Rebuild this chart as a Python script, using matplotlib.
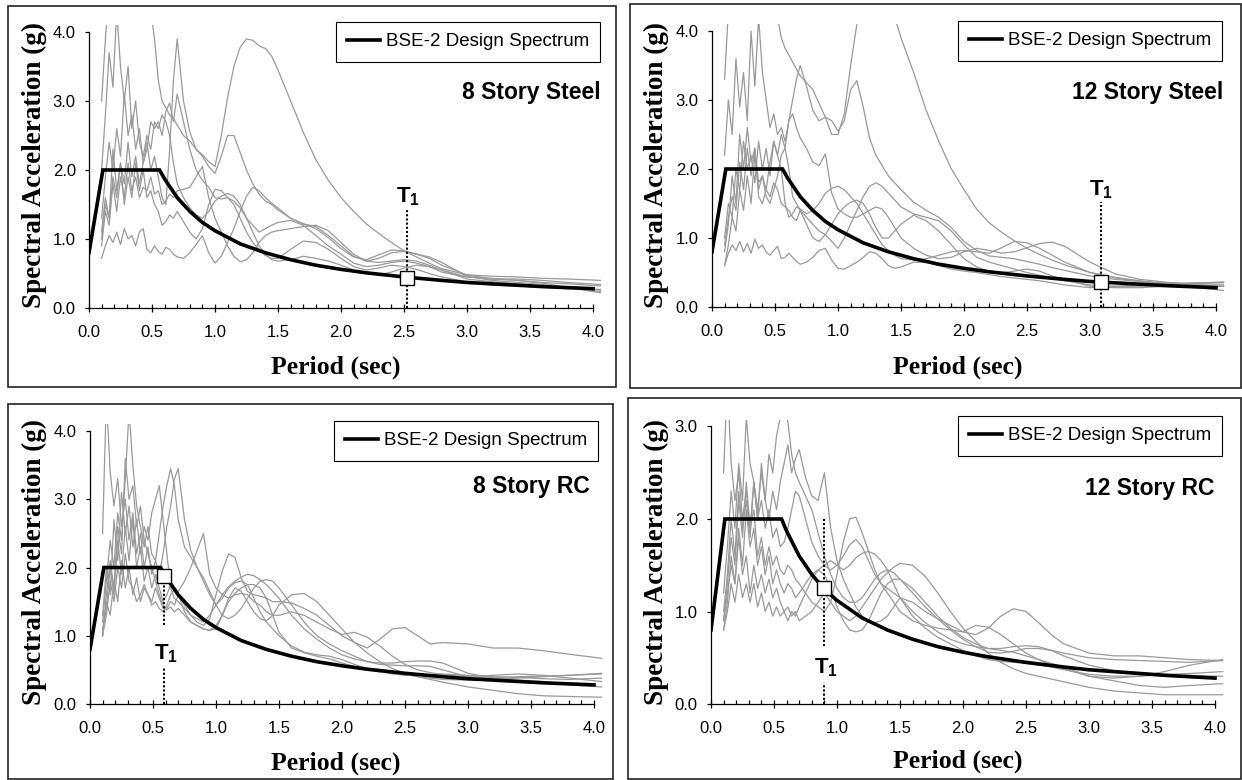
import matplotlib
matplotlib.use('Agg')
import matplotlib.pyplot as plt
from matplotlib.patches import Rectangle
from matplotlib.lines import Line2D
from matplotlib.ticker import MultipleLocator, FormatStrFormatter

plt.rcParams['font.family'] = ['Liberation Sans', 'DejaVu Sans']
plt.rcParams['mathtext.fontset'] = 'custom'
plt.rcParams['mathtext.rm'] = 'Liberation Sans'
plt.rcParams['mathtext.bf'] = 'Liberation Sans:bold'

# ---------------- data ----------------
T_GRID = [0.10, 0.13, 0.16, 0.19, 0.22, 0.25, 0.28, 0.31, 0.34, 0.37, 0.40, 0.43, 0.46, 0.49,
          0.52, 0.55, 0.58, 0.61, 0.64, 0.67, 0.70,
          0.75, 0.80, 0.85, 0.90, 0.95, 1.00, 1.05, 1.10, 1.15, 1.20, 1.25, 1.30, 1.35, 1.40,
          1.45, 1.50,
          1.6, 1.7, 1.8, 1.9, 2.0, 2.1, 2.2, 2.3, 2.4, 2.5, 2.6, 2.7, 2.8, 3.0, 3.2, 3.4, 3.6,
          3.8, 4.06]

DS_T = [0.0, 0.11, 0.56, 0.6, 0.7, 0.8, 0.9, 1.0, 1.2, 1.4, 1.6, 1.8, 2.0, 2.2, 2.5, 2.8,
        3.0, 3.3, 3.6, 4.0]
DS_SA = [0.8, 2.0, 2.0, 1.87, 1.6, 1.4, 1.24, 1.12, 0.93, 0.8, 0.7, 0.62, 0.56, 0.51, 0.45,
         0.4, 0.37, 0.34, 0.31, 0.28]

# 8 Story Steel records
S8_1 = [3.0,3.9,4.6,4.8,4.5,4.9,4.4,4.7,4.5,4.8,4.6,4.9,4.7,4.3,3.9,3.3,3.0,2.9,2.8,2.75,2.65,
        2.5,2.42,2.3,2.22,2.12,2.05,2.5,3.05,3.5,3.78,3.9,3.88,3.8,3.76,3.65,3.45,
        3.0,2.55,2.15,1.85,1.6,1.4,1.22,1.08,0.95,0.83,0.74,0.65,0.57,0.48,0.46,0.45,0.43,0.42,0.40]
S8_2 = [1.3,1.9,2.4,2.0,2.6,2.2,3.1,2.5,2.8,2.3,2.6,2.1,2.4,2.0,2.2,1.9,1.6,1.5,2.3,3.3,3.9,
        3.0,2.55,2.3,2.2,2.05,1.95,2.2,2.5,2.5,2.25,2.0,1.8,1.65,1.55,1.5,1.42,
        1.3,1.22,1.18,1.05,0.9,0.75,0.68,0.72,0.8,0.82,0.78,0.72,0.62,0.48,0.42,0.4,0.36,0.3,0.24]
S8_3 = [1.0,1.5,1.3,1.9,1.6,2.1,1.8,2.4,1.9,2.2,1.8,2.1,2.3,2.7,2.6,2.7,2.5,2.85,2.97,2.7,3.1,
        2.7,2.3,2.0,1.85,1.75,1.6,1.58,1.6,1.55,1.45,1.3,1.2,1.1,1.15,1.2,1.24,
        1.27,1.2,1.05,0.9,0.78,0.65,0.6,0.62,0.66,0.68,0.65,0.6,0.52,0.45,0.43,0.4,0.37,0.35,0.32]
S8_4 = [0.72,0.9,1.05,0.95,1.1,0.92,1.15,1.0,1.05,0.9,1.1,1.15,0.85,0.8,0.9,0.82,0.78,0.88,0.85,0.78,0.74,
        0.72,0.8,0.92,1.05,0.8,0.65,0.75,0.95,1.15,1.4,1.62,1.75,1.7,1.6,1.52,1.45,
        1.3,1.22,1.15,1.02,0.86,0.74,0.7,0.77,0.84,0.83,0.78,0.74,0.66,0.46,0.4,0.37,0.34,0.3,0.22]
S8_5 = [1.1,1.6,1.3,2.3,1.7,2.1,1.5,1.9,1.6,2.1,1.7,2.0,1.6,1.7,1.5,1.4,1.2,1.25,1.35,1.3,1.4,
        1.25,1.1,1.0,1.15,1.5,1.72,1.7,1.6,1.5,1.3,1.1,0.95,0.85,0.76,0.72,0.72,
        0.85,0.97,0.95,0.85,0.72,0.6,0.55,0.58,0.62,0.6,0.56,0.5,0.45,0.38,0.33,0.32,0.3,0.28,0.27]
S8_6 = [0.9,1.4,1.2,1.8,1.4,1.9,1.6,2.1,1.7,1.9,1.6,1.75,1.7,1.9,1.65,1.7,1.5,1.55,1.65,1.6,1.7,
        1.72,1.75,1.9,2.05,1.6,1.3,1.1,0.9,0.75,0.67,0.7,0.8,0.95,1.05,1.1,1.12,
        1.15,1.18,1.2,1.12,0.95,0.78,0.68,0.66,0.68,0.7,0.68,0.62,0.55,0.45,0.42,0.42,0.4,0.37,0.34]
S8_7 = [2.0,2.8,3.7,3.2,4.3,3.5,3.0,3.5,2.6,3.0,2.4,2.2,2.5,2.3,2.7,2.6,2.8,2.7,2.5,2.1,1.8,
        1.6,1.45,1.35,1.3,1.4,1.55,1.62,1.66,1.62,1.5,1.3,1.1,0.9,0.78,0.7,0.68,
        0.7,0.75,0.72,0.68,0.62,0.55,0.5,0.48,0.52,0.58,0.62,0.6,0.55,0.42,0.38,0.35,0.32,0.3,0.26]

# 12 Story Steel records
S12_1 = [3.3,4.3,4.8,4.5,4.9,4.6,4.8,4.4,4.7,4.9,4.5,4.7,4.6,4.4,4.2,3.9,3.75,3.65,3.55,3.45,3.35,
         3.25,3.15,2.95,2.75,2.5,2.5,2.8,3.5,4.1,4.6,4.9,5.0,4.8,4.5,4.2,3.9,
         3.4,2.85,2.4,2.0,1.7,1.42,1.22,1.08,0.96,0.85,0.76,0.68,0.61,0.5,0.43,0.38,0.33,0.29,0.24]
S12_2 = [2.2,3.0,2.5,3.6,2.9,3.4,2.7,4.0,3.2,4.2,3.4,3.0,2.6,2.8,2.5,2.6,2.4,2.7,3.0,3.3,3.5,
         3.2,2.85,2.7,2.75,2.7,2.55,2.7,3.15,3.28,2.9,2.45,2.2,2.05,1.9,1.8,1.7,
         1.52,1.4,1.3,1.15,0.95,0.82,0.74,0.72,0.7,0.66,0.62,0.57,0.53,0.45,0.4,0.37,0.35,0.34,0.33]
S12_3 = [1.0,1.5,1.3,2.0,1.7,2.4,2.0,2.2,1.8,2.4,2.0,2.3,1.9,2.4,2.2,2.5,2.3,2.7,2.8,2.6,2.45,
         2.3,2.1,2.05,2.22,1.65,1.42,1.35,1.3,1.3,1.35,1.4,1.45,1.42,1.3,1.15,1.0,
         0.85,0.75,0.7,0.72,0.8,0.85,0.82,0.78,0.8,0.86,0.92,0.94,0.88,0.65,0.48,0.4,0.36,0.33,0.3]
S12_4 = [0.9,1.3,1.6,1.4,2.1,1.7,2.3,1.9,2.3,1.8,1.9,1.7,2.1,2.4,2.2,2.0,1.5,1.3,1.35,1.45,1.42,
         1.35,1.4,1.5,1.65,1.72,1.75,1.7,1.6,1.5,1.35,1.2,1.05,0.9,0.82,0.75,0.7,
         0.68,0.7,0.75,0.8,0.82,0.8,0.78,0.86,0.95,0.93,0.85,0.75,0.65,0.5,0.42,0.37,0.34,0.32,0.3]
S12_5 = [0.6,0.9,1.3,1.1,1.7,1.4,1.9,1.5,2.2,1.7,1.9,1.6,1.5,1.7,1.9,2.2,2.3,2.0,1.6,1.5,1.4,
         1.3,1.2,1.1,1.05,0.95,0.85,1.0,1.2,1.4,1.6,1.75,1.8,1.75,1.65,1.55,1.45,
         1.35,1.3,1.25,1.1,0.9,0.72,0.65,0.6,0.55,0.5,0.46,0.42,0.38,0.32,0.3,0.3,0.32,0.34,0.36]
S12_6 = [0.8,1.2,1.9,1.5,2.5,2.0,2.6,2.1,2.3,1.6,1.5,1.7,1.6,1.8,1.7,1.5,1.45,1.4,1.3,1.25,1.4,
         1.2,1.0,0.95,1.05,1.2,1.35,1.45,1.52,1.55,1.5,1.35,1.15,1.0,1.0,1.1,1.2,
         1.33,1.25,1.1,0.9,0.7,0.58,0.52,0.5,0.52,0.55,0.52,0.45,0.4,0.3,0.28,0.28,0.3,0.3,0.3]
S12_7 = [0.6,0.78,0.9,0.82,0.95,0.8,0.92,0.78,0.98,0.85,0.9,0.8,0.75,0.82,0.88,0.7,0.72,0.78,0.72,0.66,0.62,
         0.65,0.72,0.82,0.85,0.68,0.56,0.55,0.6,0.65,0.72,0.8,0.78,0.7,0.6,0.56,0.58,
         0.65,0.65,0.6,0.55,0.52,0.5,0.47,0.44,0.42,0.4,0.38,0.35,0.32,0.28,0.3,0.32,0.33,0.35,0.36]

# 8 Story RC records
R8_1 = [2.5,4.5,3.4,2.9,3.3,2.6,3.0,2.4,2.8,2.2,2.5,2.0,2.3,1.9,2.1,2.5,2.9,3.2,3.45,3.2,2.7,
        2.3,2.15,2.0,1.85,1.65,1.45,1.3,1.25,1.3,1.4,1.55,1.7,1.8,1.82,1.8,1.7,
        1.45,1.2,1.0,0.88,0.78,0.7,0.62,0.58,0.57,0.56,0.56,0.55,0.5,0.4,0.38,0.4,0.41,0.42,0.44]
R8_2 = [1.2,1.8,2.4,2.0,2.8,2.4,3.3,4.3,3.5,2.9,2.6,2.3,2.6,2.2,2.1,1.9,2.2,2.6,2.9,3.3,3.45,
        2.7,2.25,2.0,1.8,1.6,1.45,1.55,1.7,1.78,1.8,1.75,1.55,1.35,1.2,1.1,1.0,
        0.85,0.76,0.72,0.7,0.65,0.58,0.52,0.48,0.44,0.42,0.42,0.43,0.44,0.42,0.4,0.39,0.37,0.36,0.38]
R8_3 = [1.0,1.6,2.1,1.7,2.6,2.2,3.6,3.0,3.2,2.6,2.9,2.4,2.2,2.0,1.8,1.6,1.45,1.4,1.5,1.45,1.6,
        1.45,1.3,1.2,1.15,1.25,1.6,1.95,2.2,2.15,1.85,1.65,1.6,1.58,1.55,1.5,1.5,
        1.48,1.4,1.3,1.15,1.0,0.9,0.82,0.95,1.1,1.12,1.0,0.88,0.9,0.88,0.82,0.82,0.78,0.73,0.67]
R8_4 = [1.1,1.4,2.0,1.6,2.4,1.9,2.6,2.1,2.7,2.0,2.3,1.8,2.0,1.7,1.9,1.7,1.5,1.6,1.75,1.7,1.65,
        1.8,2.0,2.25,2.5,1.9,1.7,1.6,1.55,1.6,1.62,1.6,1.5,1.45,1.35,1.3,1.3,
        1.35,1.3,1.2,1.1,1.02,1.05,0.98,0.85,0.7,0.58,0.5,0.46,0.43,0.4,0.42,0.44,0.42,0.38,0.33]
R8_5 = [1.3,2.0,1.6,2.7,2.1,3.1,2.5,2.9,2.3,2.7,2.2,2.6,2.4,2.8,3.0,3.2,2.7,2.2,1.7,1.55,1.5,
        1.4,1.3,1.25,1.2,1.3,1.45,1.6,1.72,1.8,1.86,1.9,1.88,1.82,1.75,1.65,1.55,
        1.3,1.1,0.95,0.82,0.72,0.66,0.62,0.6,0.6,0.62,0.63,0.63,0.6,0.45,0.38,0.35,0.33,0.28,0.25]
R8_6 = [1.0,1.3,1.8,1.5,2.0,1.7,2.2,1.8,1.7,1.5,1.6,1.75,1.6,1.5,1.7,1.55,1.4,1.38,1.42,1.35,1.4,
        1.3,1.2,1.15,1.1,1.08,1.1,1.3,1.55,1.7,1.65,1.5,1.35,1.25,1.22,1.3,1.45,
        1.6,1.62,1.5,1.3,1.1,0.9,0.75,0.62,0.52,0.45,0.4,0.36,0.32,0.25,0.2,0.15,0.12,0.11,0.1]
R8_7 = [1.0,1.5,1.3,1.8,1.5,2.1,1.7,2.0,1.6,1.85,1.5,1.7,1.6,1.45,1.5,1.4,1.35,1.45,1.6,1.68,1.62,
        1.35,1.2,1.15,1.1,1.08,1.15,1.3,1.5,1.62,1.7,1.75,1.75,1.7,1.55,1.3,1.05,
        0.82,0.75,0.7,0.66,0.6,0.55,0.5,0.47,0.45,0.43,0.4,0.38,0.36,0.35,0.36,0.38,0.4,0.42,0.45]

# 12 Story RC records
R12_1 = [2.5,3.5,2.6,2.2,2.5,2.0,2.3,1.9,2.4,2.0,2.2,1.9,2.1,1.8,1.9,1.7,1.75,1.9,2.1,2.3,2.25,
         2.0,1.75,1.6,1.5,1.45,1.5,1.6,1.72,1.78,1.7,1.55,1.4,1.3,1.25,1.2,1.15,
         1.0,0.88,0.78,0.7,0.65,0.62,0.6,0.6,0.62,0.63,0.62,0.58,0.52,0.42,0.36,0.34,0.32,0.31,0.3]
R12_2 = [1.2,1.7,2.3,1.9,2.6,2.2,3.1,2.6,2.4,2.1,2.5,2.2,2.7,2.5,2.9,3.1,3.3,3.05,2.7,2.5,2.4,
         2.25,2.1,1.85,1.6,1.4,1.25,1.15,1.1,1.1,1.15,1.25,1.35,1.42,1.45,1.42,1.35,
         1.2,1.05,0.92,0.8,0.7,0.62,0.56,0.55,0.57,0.6,0.6,0.58,0.55,0.5,0.48,0.47,0.46,0.45,0.47]
R12_3 = [1.0,1.4,2.0,1.6,2.3,1.9,2.2,1.8,2.4,2.0,2.6,2.2,2.0,2.3,2.1,2.4,2.6,2.8,2.5,2.65,2.75,
         2.45,2.25,2.2,2.5,1.9,1.55,1.35,1.2,1.05,0.95,0.9,0.88,0.9,0.95,1.05,1.15,
         1.1,1.0,0.92,0.85,0.78,0.75,0.82,0.95,1.03,1.0,0.88,0.75,0.65,0.55,0.52,0.52,0.5,0.48,0.47]
R12_4 = [0.9,1.3,1.8,1.5,2.2,1.8,2.4,1.9,2.1,1.6,1.8,1.5,1.7,1.5,1.6,1.45,1.4,1.5,1.45,1.35,1.3,
         1.2,1.1,1.05,1.0,1.1,1.4,1.75,2.0,2.02,1.85,1.65,1.45,1.3,1.2,1.1,1.0,
         0.9,0.85,0.82,0.8,0.78,0.85,0.83,0.75,0.65,0.55,0.48,0.42,0.38,0.3,0.25,0.2,0.18,0.2,0.22]
R12_5 = [0.8,1.1,1.6,1.3,1.9,1.5,2.1,1.7,1.9,1.5,1.7,1.4,1.6,1.3,1.45,1.3,1.2,1.3,1.25,1.15,1.2,
         1.3,1.4,1.45,1.5,1.55,1.5,1.45,1.5,1.58,1.63,1.65,1.62,1.55,1.45,1.3,1.15,
         0.95,0.82,0.72,0.65,0.58,0.52,0.48,0.46,0.45,0.44,0.42,0.4,0.37,0.32,0.3,0.3,0.32,0.33,0.35]
R12_6 = [0.9,1.2,1.5,1.3,1.8,1.4,1.6,1.2,1.5,1.25,1.4,1.2,1.35,1.15,1.25,1.1,1.0,1.05,0.95,1.0,0.9,
         0.95,1.0,1.1,1.2,1.1,1.0,0.95,0.9,0.95,1.05,1.15,1.25,1.35,1.42,1.48,1.52,
         1.5,1.38,1.2,1.0,0.82,0.68,0.55,0.45,0.38,0.33,0.3,0.27,0.24,0.18,0.14,0.12,0.1,0.1,0.1]
R12_7 = [0.8,1.0,1.3,1.1,1.4,1.15,1.3,1.1,1.3,1.05,1.2,1.0,1.1,0.95,1.05,0.95,1.0,0.9,1.0,0.95,1.05,
         1.2,1.35,1.45,1.4,1.25,1.05,0.9,0.8,0.78,0.8,0.9,1.05,1.2,1.3,1.35,1.35,
         1.25,1.1,0.95,0.82,0.72,0.65,0.6,0.58,0.56,0.52,0.48,0.44,0.4,0.3,0.28,0.3,0.35,0.42,0.48]

TITLES = ['8 Story Steel', '12 Story Steel', '8 Story RC', '12 Story RC']
RECORDS = [[S8_1, S8_2, S8_3, S8_4, S8_5, S8_6, S8_7],
           [S12_1, S12_2, S12_3, S12_4, S12_5, S12_6, S12_7],
           [R8_1, R8_2, R8_3, R8_4, R8_5, R8_6, R8_7],
           [R12_1, R12_2, R12_3, R12_4, R12_5, R12_6, R12_7]]
T1_PERIOD = [2.52, 3.09, 0.59, 0.90]
T1_SA = [0.44, 0.36, 1.88, 1.25]
Y_MAX = [4.0, 4.0, 4.0, 3.0]

# ---------------- layout (pixels) ----------------
W, H = 1242, 780
fig = plt.figure(figsize=(W / 100, H / 100), dpi=100)

def fx(px):
    return px / W

def fy(py):
    return 1 - py / H

LAYOUT = [
    dict(x0=89, y0=308, ux=126, uy=69.0, box=(8, 6, 616, 387), leg=(600, 22),
         title=(601, 92), ylab=(34, 165), xlab=(336, 367),
         t1lab=(2.53, 1.62), dots=[(0, 1.45)]),
    dict(x0=712, y0=307, ux=126, uy=69.0, box=(630, 4, 1241, 388), leg=(1222, 21),
         title=(1223, 92), ylab=(656, 165), xlab=(958, 367),
         t1lab=(3.09, 1.70), dots=[(0, 1.52)]),
    dict(x0=90, y0=704, ux=126, uy=68.25, box=(8, 404, 613, 779), leg=(598, 421),
         title=(590, 487), ylab=(34, 562), xlab=(336, 763),
         t1lab=(0.60, 0.73), dots=[(1.16, 1.85), (0, 0.53)]),
    dict(x0=711, y0=704, ux=126, uy=92.5, box=(628, 398, 1241, 779), leg=(1222, 416),
         title=(1214, 488), ylab=(656, 562), xlab=(958, 761),
         t1lab=(0.91, 0.39), dots=[(0.63, 2.0), (0, 0.23)]),
]

XMAX = 4.07
GREY = '#9a9a9a'

for i in range(4):
    L = LAYOUT[i]
    ymax = Y_MAX[i]
    ytop = ymax * 1.025
    ax = fig.add_axes([fx(L['x0']), fy(L['y0']), XMAX * L['ux'] / W, ytop * L['uy'] / H])
    ax.patch.set_alpha(0)

    for rec in RECORDS[i]:
        ax.plot(T_GRID, rec, color=GREY, lw=0.9, zorder=2)
    ax.plot(DS_T, DS_SA, color='black', lw=2.6, zorder=4, solid_joinstyle='miter')

    for (a, b) in L['dots']:
        ax.plot([T1_PERIOD[i], T1_PERIOD[i]], [a, b], color='black', lw=1.5,
                ls=(0, (1, 1)), zorder=5, clip_on=False)
    ax.plot([T1_PERIOD[i]], [T1_SA[i]], marker='s', ms=10, mfc='white', mec='black',
            mew=1.0, zorder=6, ls='none')
    ax.text(L['t1lab'][0], L['t1lab'][1], r'$\mathbf{T_1}$', ha='center', va='center',
            fontsize=16, zorder=7)

    ax.set_xlim(0, XMAX)
    ax.set_ylim(0, ytop)
    for s in ['top', 'right']:
        ax.spines[s].set_visible(False)
    ax.spines['bottom'].set_bounds(0, 4.0)
    ax.spines['left'].set_bounds(0, ymax)
    ax.spines['bottom'].set_linewidth(0.9)
    ax.spines['left'].set_linewidth(0.9)
    ax.spines['bottom'].set_zorder(8)

    ax.set_xticks([0.5 * k for k in range(9)])
    ax.xaxis.set_minor_locator(MultipleLocator(0.1))
    ax.set_yticks([float(k) for k in range(int(ymax) + 1)])
    ax.xaxis.set_major_formatter(FormatStrFormatter('%.1f'))
    ax.yaxis.set_major_formatter(FormatStrFormatter('%.1f'))
    ax.tick_params(axis='x', which='major', direction='inout', length=6, width=0.9,
                   pad=9.5, labelsize=12)
    ax.tick_params(axis='x', which='minor', direction='in', length=3, width=0.9)
    ax.tick_params(axis='y', which='major', direction='out', length=3, width=0.9,
                   pad=6.5, labelsize=12)

    leg = ax.legend(handles=[Line2D([], [], color='black', lw=2.6)],
                    labels=['BSE-2 Design Spectrum'], loc='upper right',
                    bbox_to_anchor=(fx(L['leg'][0]), fy(L['leg'][1])),
                    bbox_transform=fig.transFigure, frameon=True, fancybox=False,
                    edgecolor='black', framealpha=1, borderpad=0.6, borderaxespad=0,
                    handlelength=1.75, handletextpad=0.3, fontsize=13.5)
    leg.get_frame().set_linewidth(0.8)
    leg.set_zorder(10)

    fig.text(fx(L['title'][0]), fy(L['title'][1]), TITLES[i], ha='right', va='center',
             fontsize=16.5, fontweight='bold')
    fig.text(fx(L['ylab'][0]), fy(L['ylab'][1]), 'Spectral Acceleration (g)',
             rotation=90, ha='center', va='center', fontsize=19.5, fontweight='bold',
             family='Liberation Serif')
    fig.text(fx(L['xlab'][0]), fy(L['xlab'][1]), 'Period (sec)', ha='center',
             va='center', fontsize=18.5, fontweight='bold', family='Liberation Serif')

    bx0, by0, bx1, by1 = L['box']
    fig.add_artist(Rectangle((fx(bx0), fy(by1)), (bx1 - bx0) / W, (by1 - by0) / H,
                             transform=fig.transFigure, fill=False,
                             edgecolor='#222222', lw=1.2))

fig.savefig('out.png', dpi=100)
